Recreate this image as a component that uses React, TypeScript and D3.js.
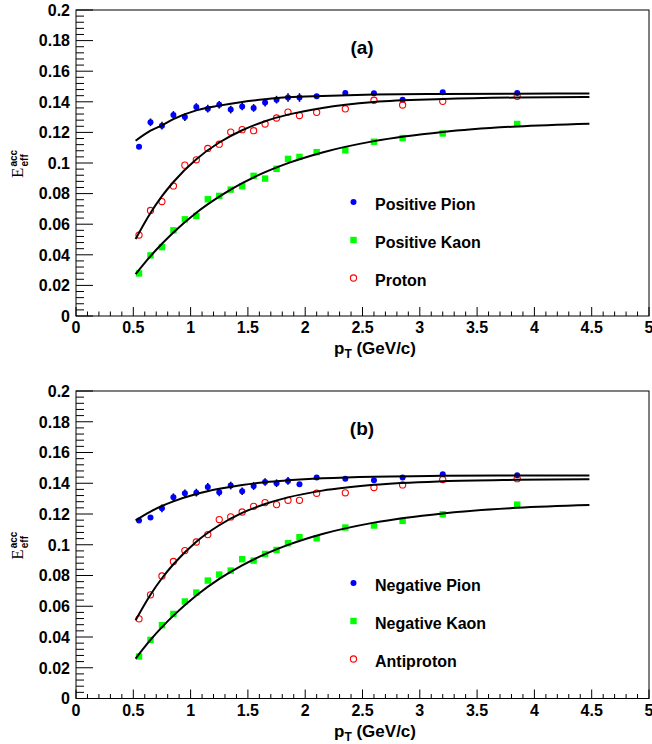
import React from "react";
import * as d3 from "d3";

// measured pT bins (GeV/c)
const pT = [0.55, 0.65, 0.75, 0.85, 0.95, 1.05, 1.15, 1.25, 1.35, 1.45, 1.55, 1.65, 1.75, 1.85, 1.95, 2.1, 2.35, 2.6, 2.85, 3.2, 3.85];

// panel (a)
const piPos = [0.1106, 0.1266, 0.1244, 0.1314, 0.13, 0.1366, 0.1355, 0.1381, 0.1349, 0.137, 0.136, 0.1395, 0.1414, 0.1428, 0.1428, 0.1436, 0.1458, 0.1456, 0.1414, 0.1462, 0.1458];
const piPosErr = [0.0015, 0.0025, 0.0025, 0.0025, 0.0025, 0.0025, 0.0025, 0.0025, 0.0025, 0.0025, 0.0025, 0.0025, 0.0025, 0.0028, 0.0028, 0.0015, 0.0015, 0.0015, 0.0015, 0.0015, 0.0015];
const kPos = [0.0278, 0.0396, 0.045, 0.056, 0.0632, 0.0654, 0.0763, 0.0785, 0.0826, 0.0848, 0.0916, 0.0898, 0.0962, 0.1027, 0.104, 0.1071, 0.1083, 0.1139, 0.1163, 0.1193, 0.1255];
const proton = [0.0529, 0.069, 0.0748, 0.085, 0.0986, 0.1021, 0.1095, 0.1123, 0.1202, 0.1218, 0.1211, 0.1255, 0.1294, 0.1333, 0.131, 0.1331, 0.1354, 0.141, 0.1379, 0.1403, 0.1436];

// panel (b)
const piNeg = [0.1157, 0.1177, 0.1237, 0.1309, 0.1335, 0.1339, 0.1376, 0.1341, 0.1385, 0.1348, 0.1382, 0.1408, 0.14, 0.1415, 0.1393, 0.1437, 0.143, 0.1419, 0.1437, 0.1458, 0.1452];
const piNegErr = [0.0015, 0.0015, 0.0025, 0.0025, 0.0025, 0.0025, 0.0025, 0.0025, 0.0025, 0.0025, 0.0025, 0.0025, 0.0025, 0.0025, 0.0015, 0.0015, 0.0015, 0.0015, 0.0015, 0.0015, 0.0015];
const kNeg = [0.0273, 0.0381, 0.0477, 0.055, 0.0631, 0.0689, 0.0767, 0.0806, 0.0832, 0.0906, 0.0897, 0.094, 0.0966, 0.101, 0.1049, 0.1042, 0.1112, 0.1125, 0.1155, 0.1198, 0.1261];
const antiproton = [0.0518, 0.0674, 0.0797, 0.0891, 0.0962, 0.1018, 0.1066, 0.1164, 0.1181, 0.1213, 0.125, 0.1274, 0.1261, 0.1289, 0.1289, 0.1335, 0.1338, 0.1372, 0.1389, 0.1424, 0.143];

// fit curves
const fitPt = [0.52, 0.65, 0.75, 0.85, 1.05, 1.25, 1.45, 1.65, 1.85, 2.15, 2.6, 3.2, 3.85, 4.48];
const fitPiPos = [0.1145, 0.1211, 0.1246, 0.1287, 0.1344, 0.1375, 0.1399, 0.1416, 0.1429, 0.1438, 0.1447, 0.1451, 0.1453, 0.1454];
const fitKPos = [0.0273, 0.0391, 0.0472, 0.0546, 0.0675, 0.078, 0.0868, 0.094, 0.0999, 0.1069, 0.1143, 0.1203, 0.1239, 0.1257];
const fitProton = [0.0503, 0.0673, 0.0783, 0.0876, 0.1025, 0.1134, 0.1214, 0.1273, 0.1316, 0.136, 0.1399, 0.1418, 0.1428, 0.1431];
const fitPiNeg = [0.1159, 0.1216, 0.1252, 0.1282, 0.133, 0.1364, 0.1389, 0.1407, 0.1419, 0.1432, 0.1443, 0.1448, 0.145, 0.1451];
const fitKNeg = [0.026, 0.0381, 0.0464, 0.0539, 0.067, 0.0778, 0.0866, 0.0939, 0.0999, 0.107, 0.1144, 0.1204, 0.124, 0.1258];
const fitAntiproton = [0.0509, 0.0675, 0.0782, 0.0873, 0.102, 0.1127, 0.1207, 0.1265, 0.1308, 0.1352, 0.139, 0.1413, 0.1422, 0.1426];

const xTicks = [0, 0.5, 1, 1.5, 2, 2.5, 3, 3.5, 4, 4.5, 5];
const xTickLabels = ["0", "0.5", "1", "1.5", "2", "2.5", "3", "3.5", "4", "4.5", "5"];
const yTicks = [0, 0.02, 0.04, 0.06, 0.08, 0.1, 0.12, 0.14, 0.16, 0.18, 0.2];
const yTickLabels = ["0", "0.02", "0.04", "0.06", "0.08", "0.1", "0.12", "0.14", "0.16", "0.18", "0.2"];

const FONT = "'Liberation Sans', Arial, Helvetica, sans-serif";
const BLUE = "#0000ff";
const GREEN = "#00ff00";
const RED = "#ff0000";

const left = 76;
const right = 649;

function Marker({ kind, x, y }) {
  if (kind === "pion") return <circle cx={x} cy={y} r={3} fill={BLUE} />;
  if (kind === "kaon") return <rect x={x - 3.2} y={y - 3.2} width={6.4} height={6.4} fill={GREEN} />;
  return <circle cx={x} cy={y} r={3.1} fill="none" stroke={RED} strokeWidth={1.1} />;
}

function Panel({ top, bottom, label, pion, pionErr, kaon, prot, fitPi, fitK, fitP, names }) {
  const x = d3.scaleLinear().domain([0, 5]).range([left, right]);
  const y = d3.scaleLinear().domain([0, 0.2]).range([bottom, top]);
  const line = d3
    .line<number>()
    .x((_, i) => x(fitPt[i]))
    .y((d) => y(d))
    .curve(d3.curveMonotoneX);

  const xMinor = d3.range(0, 51).map((i) => i / 10);
  const yMinor = d3.range(0, 51).map((i) => i * 0.004);

  const legendY = [top + 192, top + 230, top + 268];
  const kinds = ["pion", "kaon", "proton"];

  return (
    <g>
      {/* frame */}
      <rect x={left} y={top} width={right - left} height={bottom - top} fill="none" stroke="#000" strokeWidth={1} />
      {/* x axis ticks */}
      {xMinor.map((t, i) => (
        <line key={"xm" + i} x1={x(t)} x2={x(t)} y1={bottom} y2={bottom - (i % 5 === 0 ? 9 : 4.5)} stroke="#000" />
      ))}
      {xTicks.map((t, i) => (
        <text key={"xl" + i} x={x(t)} y={bottom + 17} textAnchor="middle" fontFamily={FONT} fontWeight="bold" fontSize={16}>
          {xTickLabels[i]}
        </text>
      ))}
      {/* y axis ticks */}
      {yMinor.map((t, i) => (
        <line key={"ym" + i} x1={left} x2={left + (i % 5 === 0 ? 17 : 8)} y1={y(t)} y2={y(t)} stroke="#000" />
      ))}
      {yTicks.map((t, i) => (
        <text key={"yl" + i} x={70} y={y(t)} dy="0.36em" textAnchor="end" fontFamily={FONT} fontWeight="bold" fontSize={16}>
          {yTickLabels[i]}
        </text>
      ))}
      {/* axis titles */}
      <text x={334} y={bottom + 38} fontFamily={FONT} fontWeight="bold" fontSize={17}>
        p<tspan dy={4} fontSize={12}>T</tspan>
        <tspan dy={-4}> (GeV/c)</tspan>
      </text>
      <g transform={`translate(23, ${(top + bottom) / 2 + 15})  rotate(-90)`}>
        <text x={0} y={0} fontFamily="'Liberation Serif', 'DejaVu Serif', serif" fontSize={17}>E</text>
        <text x={11.5} y={-6} fontFamily={FONT} fontWeight="bold" fontSize={10}>acc</text>
        <text x={11.5} y={5} fontFamily={FONT} fontWeight="bold" fontSize={10}>eff</text>
      </g>
      <text x={362} y={top + 44} textAnchor="middle" fontFamily={FONT} fontWeight="bold" fontSize={19}>
        {label}
      </text>

      {/* data */}
      {pT.map((p, i) => (
        <line key={"e" + i} x1={x(p)} x2={x(p)} y1={y(pion[i] - pionErr[i])} y2={y(pion[i] + pionErr[i])} stroke="#000" strokeWidth={1.5} />
      ))}
      {pT.map((p, i) => <Marker key={"pi" + i} kind="pion" x={x(p)} y={y(pion[i])} />)}
      {pT.map((p, i) => <Marker key={"k" + i} kind="kaon" x={x(p)} y={y(kaon[i])} />)}
      {pT.map((p, i) => <Marker key={"p" + i} kind="proton" x={x(p)} y={y(prot[i])} />)}

      {[fitPi, fitK, fitP].map((f, i) => (
        <path key={"f" + i} d={line(f) || ""} fill="none" stroke="#000" strokeWidth={2} />
      ))}

      {/* legend */}
      {names.map((n, i) => (
        <g key={"lg" + i}>
          <Marker kind={kinds[i]} x={353.5} y={legendY[i]} />
          <text x={375} y={legendY[i] + 8} fontFamily={FONT} fontWeight="bold" fontSize={16}>
            {n}
          </text>
        </g>
      ))}
    </g>
  );
}

export default function App() {
  return (
    <svg width={652} height={744} style={{ position: "absolute", left: 0, top: 0, background: "#fff" }}>
      <rect width={652} height={744} fill="#fff" />
      <Panel
        top={10}
        bottom={316}
        label="(a)"
        pion={piPos}
        pionErr={piPosErr}
        kaon={kPos}
        prot={proton}
        fitPi={fitPiPos}
        fitK={fitKPos}
        fitP={fitProton}
        names={["Positive Pion", "Positive Kaon", "Proton"]}
      />
      <Panel
        top={391}
        bottom={698.5}
        label="(b)"
        pion={piNeg}
        pionErr={piNegErr}
        kaon={kNeg}
        prot={antiproton}
        fitPi={fitPiNeg}
        fitK={fitKNeg}
        fitP={fitAntiproton}
        names={["Negative Pion", "Negative Kaon", "Antiproton"]}
      />
    </svg>
  );
}
